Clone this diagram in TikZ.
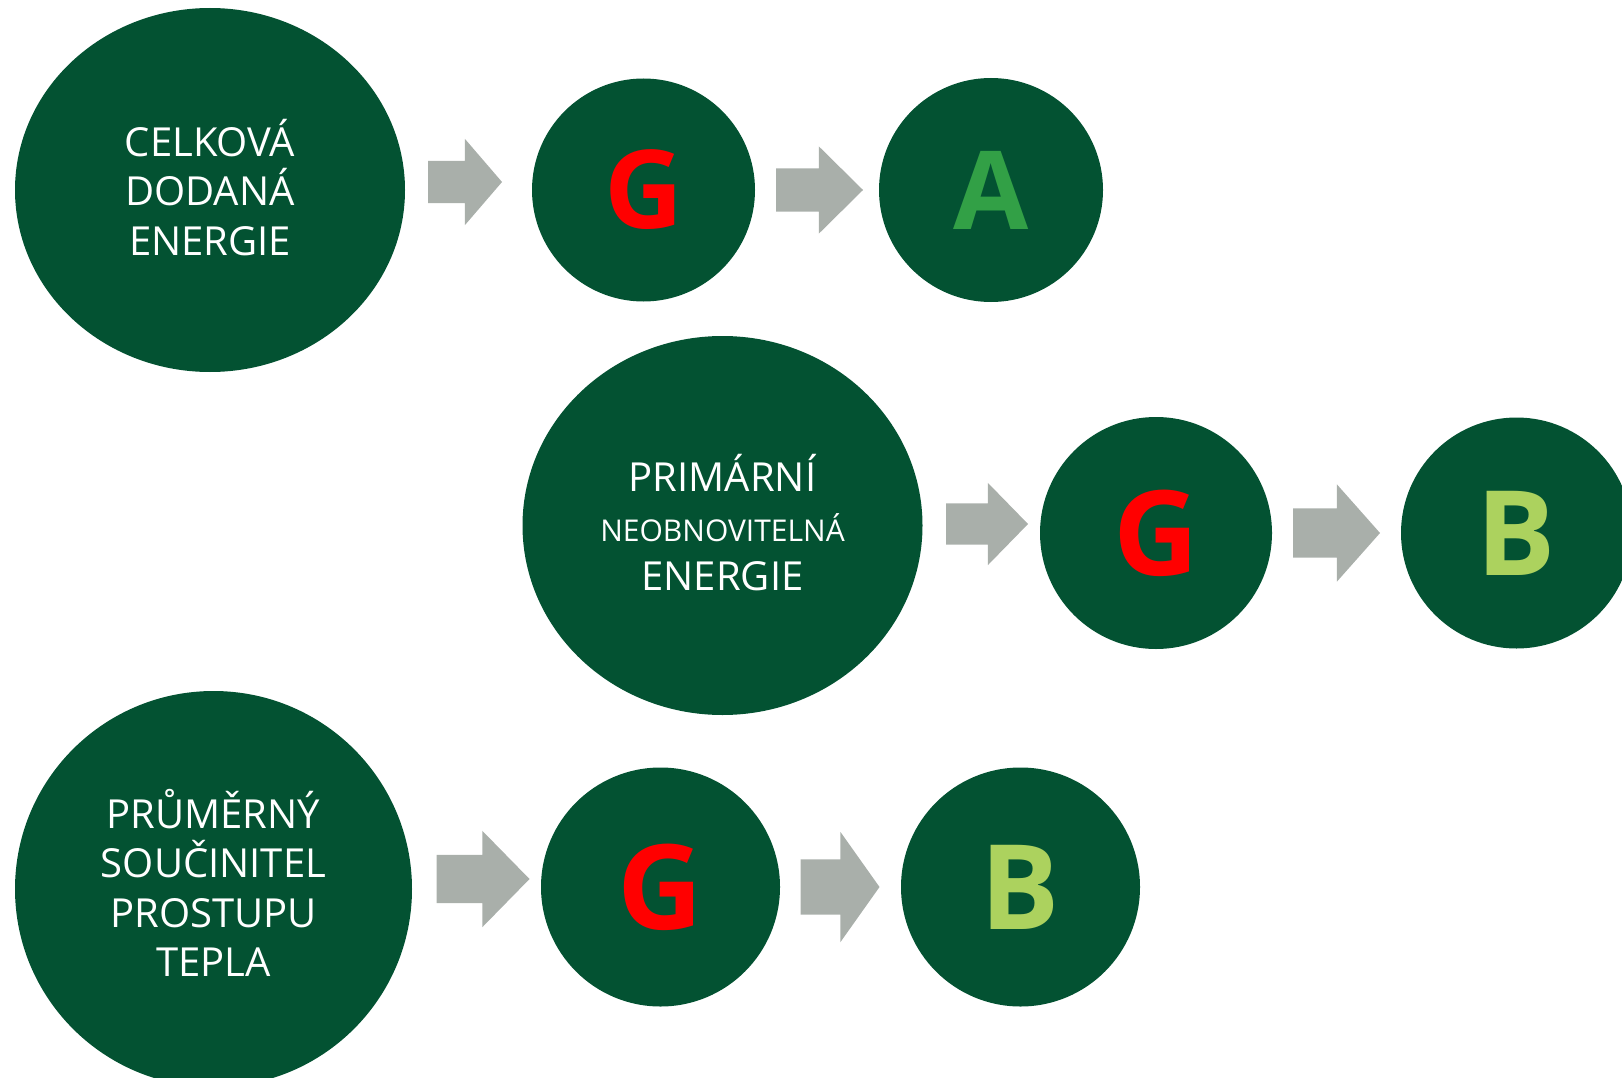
\documentclass[tikz,border=0pt]{standalone}
\usepackage{fontspec}
\setmainfont{Open Sans}
\usepackage{tikz}
\usetikzlibrary{shapes.geometric, shapes.arrows, positioning, calc}

\definecolor{darkgreen}{RGB}{3,82,50}
\definecolor{arrowgray}{RGB}{169,175,170}
\definecolor{gradered}{RGB}{255,0,0}
\definecolor{gradeA}{RGB}{50,160,70}
\definecolor{gradeB}{RGB}{172,210,94}

\begin{document}
\begin{tikzpicture}[
      x=1pt, y=-1pt,
      bigcirc/.style={ellipse, fill=darkgreen, text=white, inner sep=0pt, outer sep=0pt, align=center, font=\fontsize{40}{49.5}\selectfont},
      gradecirc/.style={circle, fill=darkgreen, inner sep=0pt, outer sep=0pt, font=\bfseries\fontsize{118}{118}\selectfont},
      blockarrow/.style={single arrow, fill=arrowgray, inner xsep=0pt, outer sep=0pt, single arrow head indent=0pt}
      ]

      \useasboundingbox (0,0) rectangle (1622,1078);

      % Row 1: Celkova dodana energie
      \node[bigcirc, minimum width=390pt, minimum height=364pt, text depth=6pt] (celk) at (210,190) {CELKOVÁ\\DODANÁ\\ENERGIE};
      \node[gradecirc, minimum size=223pt, right=127pt of celk, text=gradered, font=\bfseries\fontsize{109}{109}\selectfont] (celkG) {G};
      \node[gradecirc, minimum size=224pt, right=124pt of celkG, text=gradeA, font=\bfseries\fontsize{109}{109}\selectfont] (celkA) {A};

      % Row 2: Primarni neobnovitelna energie
      \node[bigcirc, minimum width=400pt, minimum height=379pt, text depth=6pt] (prim) at (722.5,525.5) {PRIMÁRNÍ\\{\fontsize{30}{36}\selectfont NEOBNOVITELNÁ}\\ENERGIE};
      \node[gradecirc, minimum size=232pt, right=117.5pt of prim, yshift=-7.5pt, text=gradered] (primG) {G};
      \node[gradecirc, minimum size=231pt, right=129pt of primG, text=gradeB] (primB) {B};

      % Row 3: Prumerny soucinitel prostupu tepla
      \node[bigcirc, minimum width=397pt, minimum height=396pt, text depth=12pt] (prum) at (213.5,889) {PRŮMĚRNÝ\\SOUČINITEL\\PROSTUPU\\TEPLA};
      \node[gradecirc, minimum size=239pt, right=129pt of prum, yshift=2pt, text=gradered] (prumG) {G};
      \node[gradecirc, minimum size=239pt, right=121pt of prumG, text=gradeB] (prumB) {B};

      % Arrows between the circles
      \node[blockarrow, inner ysep=21pt, minimum height=74pt, minimum width=86pt, single arrow head extend=22pt, single arrow tip angle=98.6, right=23pt of celk, yshift=8pt] (arr1) {};
      \node[blockarrow, inner ysep=21.5pt, minimum height=87pt, minimum width=87pt, single arrow head extend=22pt, single arrow tip angle=89.3, right=21pt of celkG] (arr2) {};
      \node[blockarrow, inner ysep=20.5pt, minimum height=82pt, minimum width=82pt, single arrow head extend=20.5pt, single arrow tip angle=91.4, right=23.5pt of prim, yshift=1.5pt] (arr3) {};
      \node[blockarrow, inner ysep=24.5pt, minimum height=87pt, minimum width=97pt, single arrow head extend=24pt, single arrow tip angle=96.9, right=21pt of primG] (arr4) {};
      \node[blockarrow, inner ysep=24pt, minimum height=93pt, minimum width=96pt, single arrow head extend=24pt, single arrow tip angle=91.2, right=24.5pt of prum, yshift=10pt] (arr5) {};
      \node[blockarrow, inner ysep=27.5pt, minimum height=79pt, minimum width=110pt, single arrow head extend=27.5pt, single arrow tip angle=109.3, right=20.5pt of prumG] (arr6) {};

   \end{tikzpicture}
\end{document}
